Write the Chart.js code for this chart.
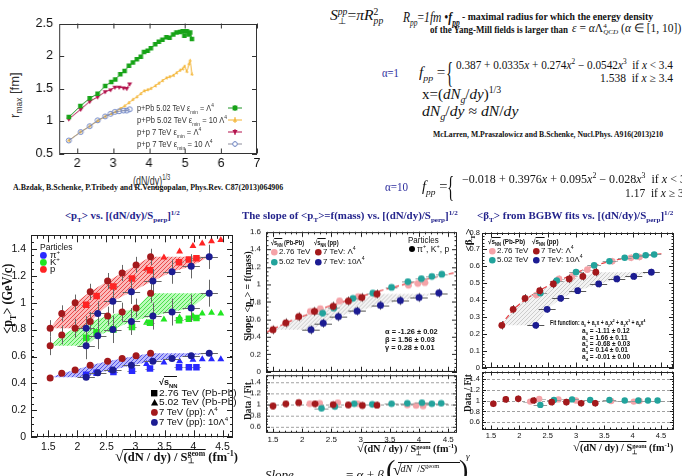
<!DOCTYPE html>
<html>
<head>
<meta charset="utf-8">
<script src="https://cdn.jsdelivr.net/npm/chart.js@4.4.1/dist/chart.umd.min.js"></script>
<style>
  html, body { margin: 0; padding: 0; }
  body { width: 682px; height: 476px; overflow: hidden; background: #fff; position: relative; }
  .tx { position: absolute; white-space: nowrap; line-height: 1.1; color: #111;
        font-family: "Liberation Serif", "Times New Roman", serif; }
  .st { display: inline-block; vertical-align: middle; line-height: 0.9; font-size: 62%; text-align: left; }
  sub, sup { font-size: 65%; line-height: 0; }
  .ov { border-top: 1px solid currentColor; }
  .box { position: absolute; }
</style>
</head>
<body>
<script>
// ---- r_max vs (dN/dy)^(1/3) ----
var rX = [1.77, 2.09, 2.35, 2.57, 2.78, 2.95, 3.06, 3.2, 3.32, 3.44, 3.55, 3.66, 3.77, 3.86, 3.96,
          4.05, 4.17, 4.27, 4.37, 4.48, 4.57, 4.67, 4.76, 4.86, 4.93, 4.98, 5.05, 5.11, 5.14, 5.19];
var rPPbL1 = [1.06, 1.23, 1.35, 1.42, 1.54, 1.60, 1.64, 1.72, 1.77, 1.85, 1.90, 1.95, 1.99, 2.06, 2.08,
              2.12, 2.18, 2.22, 2.25, 2.29, 2.28, 2.33, 2.36, 2.37, 2.38, 2.31, 2.38, 2.33, 2.36, 2.26];
var rPPbL10 = [0.70, 0.83, 0.92, 1.00, 1.07, 1.11, 1.14, 1.19, 1.23, 1.28, 1.33, 1.37, 1.42, 1.46, 1.48,
               1.50, 1.54, 1.58, 1.62, 1.66, 1.68, 1.70, 1.74, 1.78, 1.80, 1.84, 1.76, 1.88, 1.93, 1.72];
var rppX = [1.77, 2.1, 2.35, 2.57, 2.78, 2.93, 3.05, 3.17, 3.29, 3.38, 3.46];
var rppL1 = [1.03, 1.18, 1.30, 1.37, 1.45, 1.48, 1.52, 1.52, 1.51, 1.50, 1.57];
var rppL10 = [0.70, 0.83, 0.92, 1.01, 1.07, 1.11, 1.14, 1.15, 1.16, 1.16, 1.18];
var rTicksX = [2, 3, 4, 5, 6, 7];
var rTicksY = [0.5, 1, 1.5, 2, 2.5];

// ---- <pT> vs sqrt((dN/dy)/S) ----
var ppX1 = [1.53, 1.73, 1.96, 2.22, 2.52, 2.77, 3.01, 3.26];   // 7 TeV pp, Λ^4
var ppX10 = [2.15, 2.35, 2.61, 2.93, 3.30, 3.63, 3.96, 4.27];  // 7 TeV pp, 10Λ^4
var mptPiL1 = [0.44, 0.475, 0.50, 0.535, 0.565, 0.585, 0.605, 0.625];
var mptKL1 = [0.68, 0.76, 0.81, 0.86, 0.90, 0.93, 0.96, 1.07];
var mptPL1 = [0.81, 0.92, 1.00, 1.08, 1.16, 1.22, 1.28, 1.34];
var mptPiL10 = [0.445, 0.48, 0.50, 0.535, 0.565, 0.585, 0.605, 0.625];
var mptKL10 = [0.68, 0.755, 0.80, 0.86, 0.90, 0.93, 0.96, 1.07];
var mptPL10 = [0.81, 0.92, 1.01, 1.08, 1.16, 1.23, 1.27, 1.34];
var pb276X = [2.15, 2.33, 2.62, 2.94, 3.25, 3.75, 3.92, 4.05];
var mptPi276 = [0.465, 0.48, 0.485, 0.495, 0.51, 0.52, 0.52, 0.52];
var mptK276 = [0.74, 0.78, 0.80, 0.82, 0.85, 0.87, 0.88, 0.885];
var mptP276 = [0.985, 1.05, 1.12, 1.18, 1.24, 1.30, 1.32, 1.33];
var pb502X = [2.58, 3.19, 3.49, 3.76, 3.99, 4.15, 4.31, 4.47];
var mptPi502 = [0.50, 0.545, 0.555, 0.565, 0.575, 0.58, 0.58, 0.58];
var mptK502 = [0.80, 0.85, 0.875, 0.89, 0.90, 0.92, 0.925, 0.92];
var mptP502 = [1.12, 1.25, 1.335, 1.38, 1.42, 1.44, 1.455, 1.465];
var mptTicksX = [1.5, 2, 2.5, 3, 3.5, 4, 4.5];
var mptTicksY = [0, 0.2, 0.4, 0.6, 0.8, 1, 1.2, 1.4];

// ---- slope of <pT>(mass) ----
var slX1 = [1.5, 1.72, 1.94, 2.21, 2.53, 2.79, 3.02, 3.28];
var slL1 = [0.48, 0.56, 0.63, 0.69, 0.75, 0.81, 0.85, 0.89];
var slX10 = [2.15, 2.36, 2.62, 2.94, 3.34, 3.68, 4.00, 4.34];
var slL10 = [0.48, 0.555, 0.63, 0.695, 0.76, 0.815, 0.85, 0.90];
var sl276X = [2.14, 2.31, 2.64, 2.96, 3.27, 3.82, 3.98, 4.10];
var sl276 = [0.69, 0.72, 0.81, 0.86, 0.885, 0.99, 1.01, 1.02];
var sl502X = [2.35, 2.54, 2.87, 3.21, 3.53, 3.81, 4.04, 4.22, 4.39];
var sl502 = [0.67, 0.73, 0.84, 0.90, 0.965, 1.03, 1.065, 1.09, 1.115];
var slFitX = [1.38, 1.6, 1.8, 2.0, 2.25, 2.5, 2.75, 3.0, 3.25, 3.5, 3.75, 4.0, 4.3, 4.65];
var slFit = [0.45, 0.52, 0.58, 0.63, 0.70, 0.76, 0.81, 0.86, 0.91, 0.955, 1.0, 1.04, 1.085, 1.14];
var slTicksY = [0, 0.2, 0.4, 0.6, 0.8, 1, 1.2, 1.4, 1.6];
var slRatL1X = [1.5, 1.72, 1.94, 2.22, 2.53, 2.79, 3.03, 3.28];
var slRatL1 = [0.97, 1.01, 1.03, 1.01, 0.995, 0.99, 0.98, 0.985];
var slRat276X = [2.13, 2.30, 2.61, 2.95, 3.80, 3.95, 4.07];
var slRat276 = [1.01, 1.02, 1.03, 1.01, 0.99, 0.98, 0.97];
var slRat502X = [2.33, 2.56, 2.89, 3.20, 3.53, 3.80, 4.05, 4.22, 4.38];
var slRat502 = [0.93, 0.96, 1.01, 1.00, 1.01, 1.02, 1.03, 1.01, 1.02];

// ---- <betaT> from BGBW fits ----
var btX1 = [1.69, 1.89, 2.10, 2.36, 2.60, 2.88, 3.12, 3.35];
var btL1 = [0.25, 0.345, 0.41, 0.455, 0.495, 0.525, 0.54, 0.565];
var btX10 = [2.29, 2.49, 2.73, 3.03, 3.40, 3.72, 4.02, 4.33];
var btL10 = [0.25, 0.345, 0.41, 0.455, 0.495, 0.525, 0.54, 0.565];
var bt276X = [2.30, 2.70, 2.93, 3.20, 3.64, 3.97, 4.12];
var bt276 = [0.43, 0.525, 0.54, 0.58, 0.63, 0.65, 0.655];
var bt502X = [2.37, 2.66, 3.00, 3.32, 3.59, 3.86, 4.06, 4.23, 4.38];
var bt502 = [0.44, 0.515, 0.565, 0.605, 0.63, 0.65, 0.66, 0.665, 0.67];
var btFitX = [1.67, 1.8, 1.9, 2.0, 2.1, 2.25, 2.4, 2.6, 2.8, 3.0, 3.25, 3.5, 3.75, 4.0, 4.25, 4.55];
var btFit = [0.25, 0.305, 0.345, 0.375, 0.40, 0.435, 0.465, 0.50, 0.53, 0.56, 0.595, 0.62, 0.64, 0.655, 0.665, 0.675];
var btTicksY = [0, 0.1, 0.2, 0.3, 0.4, 0.5, 0.6, 0.7, 0.8];
var btRatL1X = [1.54, 1.76, 1.98, 2.25, 2.57, 2.83, 3.09, 3.34];
var btRatL1 = [0.94, 1.02, 1.03, 1.00, 0.97, 0.97, 0.95, 0.95];
var btRat276X = [2.19, 2.35, 2.69, 3.00, 3.62, 4.02, 4.12];
var btRat276 = [0.98, 1.03, 1.02, 1.00, 0.99, 0.98, 0.99];
var btRat502X = [2.37, 2.61, 2.93, 3.25, 3.59, 3.86, 4.10, 4.27, 4.44];
var btRat502 = [0.92, 1.01, 1.02, 1.01, 1.01, 1.00, 1.00, 1.00, 1.00];
var ratTicksY = [0.6, 0.8, 1, 1.2, 1.4];

// colours
var DRED = '#a3191c', NAVY = '#1c1c92', PINK = '#f5a3a8', TEAL = '#22a39c';

function pts(xs, ys) {
  return xs.map(function (x, i) { return { x: x, y: ys[i] }; });
}

// area between the Λ^4 curve (upper edge) and the 10Λ^4 curve (lower edge),
// each curve held flat beyond its own points
function band(x1, y1, x2, y2) {
  var p = pts(x1, y1);
  p.push({ x: x2[x2.length - 1], y: y1[y1.length - 1] });
  for (var i = x2.length - 1; i >= 0; i--) p.push({ x: x2[i], y: y2[i] });
  p.push({ x: x1[0], y: y2[0] });
  return p;
}

function hatch(bg, fg) {
  var c = document.createElement('canvas');
  c.width = 4; c.height = 4;
  var g = c.getContext('2d');
  g.fillStyle = bg; g.fillRect(0, 0, 4, 4);
  g.strokeStyle = fg; g.lineWidth = 1;
  g.beginPath(); g.moveTo(-1, 5); g.lineTo(5, -1); g.stroke();
  return g.createPattern(c, 'repeat');
}

function dots(xs, ys, shape, color, r, extra) {
  var d = { type: 'scatter', data: pts(xs, ys), pointStyle: shape, pointRadius: r,
            backgroundColor: color, borderColor: color, borderWidth: 0, order: 0 };
  for (var k in extra) d[k] = extra[k];
  return d;
}

function curve(xs, ys, color, extra) {
  var d = { type: 'line', data: pts(xs, ys), showLine: true, borderColor: color, borderWidth: 1,
            pointRadius: 0, fill: false, tension: 0, order: 5 };
  for (var k in extra) d[k] = extra[k];
  return d;
}

function area(poly, pattern) {
  return { type: 'line', data: poly, showLine: true, fill: 'shape', backgroundColor: pattern,
           borderWidth: 0, borderColor: 'rgba(0,0,0,0)', pointRadius: 0, tension: 0, order: 10 };
}

// frame with inward ticks on all four sides, optional dashed reference lines
var framePlugin = {
  id: 'frame',
  beforeDatasetsDraw: function (chart) {
    var f = chart.canvas.frameCfg;
    if (!f.hl) return;
    var a = chart.chartArea, ctx = chart.ctx, ys = chart.scales.y;
    ctx.save();
    ctx.strokeStyle = '#a0a0a0'; ctx.lineWidth = 1; ctx.setLineDash([3, 2]);
    ctx.beginPath();
    f.hl.forEach(function (v) {
      var p = Math.round(ys.getPixelForValue(v)) + 0.5;
      ctx.moveTo(a.left, p); ctx.lineTo(a.right, p);
    });
    ctx.stroke();
    ctx.restore();
  },
  afterDraw: function (chart) {
    var f = chart.canvas.frameCfg;
    var a = chart.chartArea, ctx = chart.ctx, xs = chart.scales.x, ys = chart.scales.y;
    ctx.save();
    ctx.strokeStyle = f.color; ctx.lineWidth = 1;
    ctx.strokeRect(Math.round(a.left) + 0.5, Math.round(a.top) + 0.5,
                   Math.round(a.right - a.left) - 1, Math.round(a.bottom - a.top) - 1);
    ctx.beginPath();
    function tx(v, len) {
      var p = Math.round(xs.getPixelForValue(v)) + 0.5;
      ctx.moveTo(p, a.bottom); ctx.lineTo(p, a.bottom - len);
      ctx.moveTo(p, a.top); ctx.lineTo(p, a.top + len);
    }
    function ty(v, len) {
      var p = Math.round(ys.getPixelForValue(v)) + 0.5;
      ctx.moveTo(a.left, p); ctx.lineTo(a.left + len, p);
      ctx.moveTo(a.right, p); ctx.lineTo(a.right - len, p);
    }
    f.xt.forEach(function (v) { tx(v, f.xl); });
    f.yt.forEach(function (v) { ty(v, f.yl); });
    var k;
    if (f.xm) for (k = Math.ceil(xs.min / f.xm - 1e-9); k * f.xm <= xs.max + 1e-9; k++) tx(k * f.xm, f.xl / 2);
    if (f.ym) for (k = Math.ceil(ys.min / f.ym - 1e-9); k * f.ym <= ys.max + 1e-9; k++) ty(k * f.ym, f.yl / 2);
    ctx.stroke();
    ctx.restore();
  }
};

// error bars drawn under each dataset's markers
var errPlugin = {
  id: 'errbars',
  beforeDatasetDraw: function (chart, args) {
    var ds = chart.data.datasets[args.index];
    if (!ds.errY && !ds.errX) return;
    var a = chart.chartArea, ctx = chart.ctx, xs = chart.scales.x, ys = chart.scales.y;
    ctx.save();
    ctx.beginPath(); ctx.rect(a.left, a.top, a.right - a.left, a.bottom - a.top); ctx.clip();
    ctx.strokeStyle = ds.errColor || '#555'; ctx.lineWidth = 1;
    ctx.beginPath();
    ds.data.forEach(function (p) {
      var px = Math.round(xs.getPixelForValue(p.x)) + 0.5, py = Math.round(ys.getPixelForValue(p.y)) + 0.5;
      if (ds.errY) {
        ctx.moveTo(px, ys.getPixelForValue(p.y + ds.errY));
        ctx.lineTo(px, ys.getPixelForValue(p.y - ds.errY));
      }
      if (ds.errX) {
        ctx.moveTo(xs.getPixelForValue(p.x - ds.errX), py);
        ctx.lineTo(xs.getPixelForValue(p.x + ds.errX), py);
      }
    });
    ctx.stroke();
    ctx.restore();
  }
};

function fmt(v) { return String(+(+v).toFixed(3)); }

function plot(o) {
  var box = document.createElement('div');
  box.className = 'box';
  document.body.appendChild(box);
  var cv = document.createElement('canvas');
  box.appendChild(cv);
  var a = o.area;
  cv.width = a[2] - a[0] + 40;
  cv.height = a[3] - a[1] + o.xh + 6;
  cv.frameCfg = o.frame;
  var font = { family: 'Liberation Sans', size: o.fs };
  var chart = new Chart(cv, {
    type: 'scatter',
    data: { datasets: o.datasets },
    options: {
      responsive: false, maintainAspectRatio: false, animation: false, events: [],
      devicePixelRatio: 1,
      layout: { padding: { top: 6, right: 6, left: 0, bottom: 0 } },
      plugins: { legend: { display: false }, tooltip: { enabled: false } },
      scales: {
        x: {
          type: 'linear', min: o.xr[0], max: o.xr[1],
          grid: { display: false, drawTicks: false }, border: { display: false },
          afterBuildTicks: function (s) { s.ticks = o.frame.xt.map(function (v) { return { value: v }; }); },
          afterFit: function (s) { s.height = o.xh; },
          ticks: { display: o.xlab !== false, font: font, color: '#111', padding: o.xp,
                   maxRotation: 0, autoSkip: false, callback: fmt }
        },
        y: {
          type: 'linear', min: o.yr[0], max: o.yr[1],
          grid: { display: false, drawTicks: false }, border: { display: false },
          afterBuildTicks: function (s) { s.ticks = o.frame.yt.map(function (v) { return { value: v }; }); },
          afterFit: function (s) { s.width = 34; },
          ticks: { font: font, color: '#111', padding: o.yp, autoSkip: false, callback: fmt }
        }
      }
    },
    plugins: [framePlugin, errPlugin]
  });
  var ca = chart.chartArea;
  var dw = (a[2] - a[0]) - (ca.right - ca.left), dh = (a[3] - a[1]) - (ca.bottom - ca.top);
  if (Math.abs(dw) > 0.3 || Math.abs(dh) > 0.3) {
    chart.resize(chart.width + dw, chart.height + dh);
    ca = chart.chartArea;
  }
  box.style.left = (a[0] - ca.left) + 'px';
  box.style.top = (a[1] - ca.top) + 'px';
  return chart;
}

// r_max
plot({
  area: [59, 23, 256, 153], xr: [1.5, 7], yr: [0.5, 2.5], fs: 12.5, xh: 18, xp: 3, yp: 6,
  frame: { xt: rTicksX, yt: rTicksY, xl: 5, yl: 5, color: '#333' },
  datasets: [
    curve(rX, rPPbL1, '#1e9426', { pointStyle: 'rect', pointRadius: 3.2, pointBackgroundColor: '#17a317', pointBorderWidth: 0, order: 1 }),
    curve(rppX, rppL1, '#b3134d', { pointStyle: 'triangle', pointRotation: 180, pointRadius: 2.8, pointBackgroundColor: '#b3134d', pointBorderWidth: 0, order: 2 }),
    curve(rppX, rppL10, '#8e8e9c', { pointStyle: 'circle', pointRadius: 2.5, pointBackgroundColor: 'rgba(255,255,255,0)', pointBorderColor: '#6f86c6', pointBorderWidth: 1, order: 3 }),
    curve(rX, rPPbL10, '#f2b232', { pointStyle: 'triangle', pointRadius: 2, pointBackgroundColor: '#f5bb45', pointBorderWidth: 0, errY: 0.025, errColor: '#f4c560', order: 4 })
  ]
});

// <pT>
plot({
  area: [31, 235, 233, 437], xr: [1.2, 4.68], yr: [0, 1.5], fs: 10.5, xh: 16, xp: 4, yp: 5,
  frame: { xt: mptTicksX, yt: mptTicksY, xl: 7, yl: 6, xm: 0.1, ym: 0.05, color: '#222' },
  datasets: [
    dots(ppX1, mptPL1, 'circle', DRED, 3.5, { errY: 0.06, errColor: '#666' }),
    dots(ppX1, mptKL1, 'circle', DRED, 3.5, { errY: 0.07, errColor: '#666' }),
    dots(ppX1, mptPiL1, 'circle', DRED, 3.5, { errY: 0.015, errColor: '#666' }),
    dots(ppX10, mptPL10, 'circle', NAVY, 3.5, { errY: 0.09, errX: 0.15, errColor: '#666' }),
    dots(ppX10, mptKL10, 'circle', NAVY, 3.5, { errY: 0.1, errX: 0.15, errColor: '#666' }),
    dots(ppX10, mptPiL10, 'circle', NAVY, 3.5, { errY: 0.02, errX: 0.15, errColor: '#666' }),
    dots(pb276X, mptP276, 'rect', '#ff2424', 4.6, { errX: 0.08, errColor: '#999', order: 1 }),
    dots(pb276X, mptK276, 'rect', '#22e622', 4.6, { errX: 0.08, errColor: '#999', order: 1 }),
    dots(pb276X, mptPi276, 'rect', '#2828ff', 4.6, { errX: 0.08, errColor: '#999', order: 1 }),
    dots(pb502X, mptP502, 'triangle', '#ff2424', 4, { order: 1 }),
    dots(pb502X, mptK502, 'triangle', '#22e622', 4, { order: 1 }),
    dots(pb502X, mptPi502, 'triangle', '#2828ff', 4, { order: 1 }),
    area(band(ppX1, mptPL1, ppX10, mptPL10), hatch('rgba(250,130,130,0.55)', 'rgba(225,40,40,0.75)')),
    area(band(ppX1, mptKL1, ppX10, mptKL10), hatch('rgba(130,250,130,0.55)', 'rgba(40,215,40,0.75)')),
    area(band(ppX1, mptPiL1, ppX10, mptPiL10), hatch('rgba(130,130,250,0.55)', 'rgba(50,50,225,0.75)'))
  ]
});

// slope, upper panel
plot({
  area: [266, 232, 457, 371], xr: [1.38, 4.65], yr: [0, 1.6], fs: 8, xh: 2, xp: 2, yp: 5, xlab: false,
  frame: { xt: mptTicksX, yt: slTicksY, xl: 5, yl: 5, xm: 0.1, ym: 0.05, color: '#222' },
  datasets: [
    dots(slX10, slL10, 'circle', NAVY, 3.5, { errY: 0.05, errX: 0.15, errColor: '#555' }),
    dots(slX1, slL1, 'circle', DRED, 3.5, { errY: 0.05, errColor: '#555' }),
    dots(sl502X, sl502, 'circle', TEAL, 3.4, { errY: 0.02, errX: 0.1, errColor: '#999', order: 1 }),
    dots(sl276X, sl276, 'circle', PINK, 3.4, { errY: 0.03, errX: 0.06, errColor: '#bbb', order: 2 }),
    curve(slFitX, slFit, '#e63c40', { borderDash: [5, 3], borderWidth: 1.2, tension: 0.3 }),
    area(band(slX1, slL1, slX10, slL10), hatch('rgba(235,235,235,0.6)', 'rgba(180,180,180,0.6)'))
  ]
});
// slope, data/fit
plot({
  area: [266, 375, 457, 432], xr: [1.38, 4.65], yr: [0.49, 1.53], fs: 8, xh: 12, xp: 2, yp: 5,
  frame: { xt: mptTicksX, yt: ratTicksY, xl: 4, yl: 4, xm: 0.1, ym: 0.05, color: '#222',
           hl: [0.6, 0.8, 1, 1.2, 1.4] },
  datasets: [
    dots(slRatL1X, slRatL1, 'circle', DRED, 3.4, { errY: 0.06, errColor: '#555' }),
    dots(slRat502X, slRat502, 'circle', TEAL, 3.3, { errY: 0.02, errX: 0.12, errColor: '#999', order: 1 }),
    dots(slRat276X, slRat276, 'circle', PINK, 3.3, { errY: 0.03, errColor: '#bbb', order: 2 })
  ]
});

// <betaT>, upper panel
plot({
  area: [482, 232, 674, 367], xr: [1.34, 4.73], yr: [0, 0.8], fs: 7.5, xh: 2, xp: 2, yp: 2, xlab: false,
  frame: { xt: mptTicksX, yt: btTicksY, xl: 5, yl: 5, xm: 0.1, ym: 0.02, color: '#222' },
  datasets: [
    dots(btX10, btL10, 'circle', NAVY, 3.4, { errY: 0.02, errX: 0.15, errColor: '#555' }),
    dots(btX1, btL1, 'circle', DRED, 3.4, { errY: 0.025, errColor: '#555' }),
    dots(bt502X, bt502, 'circle', TEAL, 3.3, { errY: 0.01, errX: 0.12, errColor: '#999', order: 1 }),
    dots(bt276X, bt276, 'circle', PINK, 3.3, { errY: 0.02, errX: 0.1, errColor: '#bbb', order: 2 }),
    curve(btFitX, btFit, '#e63c40', { borderDash: [5, 3], borderWidth: 1.2, tension: 0.3 }),
    area(band(btX1, btL1, btX10, btL10), hatch('rgba(235,235,235,0.6)', 'rgba(180,180,180,0.6)'))
  ]
});
// <betaT>, data/fit
plot({
  area: [482, 371, 674, 429], xr: [1.34, 4.73], yr: [0.47, 1.53], fs: 7.5, xh: 12, xp: 2, yp: 2,
  frame: { xt: mptTicksX, yt: ratTicksY, xl: 4, yl: 4, xm: 0.1, ym: 0.05, color: '#222',
           hl: [0.6, 0.8, 1, 1.2, 1.4] },
  datasets: [
    dots(btRatL1X, btRatL1, 'circle', DRED, 3.3, { errY: 0.06, errColor: '#555' }),
    dots(btRat502X, btRat502, 'circle', TEAL, 3.2, { errY: 0.02, errX: 0.12, errColor: '#999', order: 1 }),
    dots(btRat276X, btRat276, 'circle', PINK, 3.2, { errY: 0.03, errX: 0.12, errColor: '#bbb', order: 2 })
  ]
});

// ---- text ----
function put(html, x, y, css, w, align) {
  var d = document.createElement('div');
  d.className = 'tx';
  d.style.cssText = css || '';
  d.innerHTML = html;
  document.body.appendChild(d);
  var ow = d.offsetWidth, oh = d.offsetHeight, s = w ? w / ow : 1;
  var left = x;
  if (align === 'r') left = x - ow * s;
  if (align === 'c') left = x - ow * s / 2;
  d.style.left = left + 'px';
  d.style.top = (y - oh / 2) + 'px';
  if (s !== 1) { d.style.transformOrigin = '0 50%'; d.style.transform = 'scaleX(' + s + ')'; }
  return d;
}
function putV(html, x, y, css, len) {
  var d = document.createElement('div');
  d.className = 'tx';
  d.style.cssText = css || '';
  d.innerHTML = html;
  document.body.appendChild(d);
  var ow = d.offsetWidth, oh = d.offsetHeight, s = len ? len / ow : 1;
  d.style.left = (x - ow / 2) + 'px';
  d.style.top = (y - oh / 2) + 'px';
  d.style.transform = 'rotate(-90deg) scaleX(' + s + ')';
  return d;
}
function mark(shape, fill, r, stroke) {
  var n = 2 * r + 2, c = n / 2, s;
  var st = stroke ? ' stroke="' + stroke + '" stroke-width="1"' : '';
  if (shape === 'c') s = '<circle cx="' + c + '" cy="' + c + '" r="' + r + '" fill="' + fill + '"' + st + '/>';
  else if (shape === 's') s = '<rect x="' + (c - r) + '" y="' + (c - r) + '" width="' + 2 * r + '" height="' + 2 * r + '" fill="' + fill + '"/>';
  else if (shape === 't') s = '<polygon points="' + c + ',' + (c - r) + ' ' + (c + r) + ',' + (c + r * 0.8) + ' ' + (c - r) + ',' + (c + r * 0.8) + '" fill="' + fill + '"/>';
  else s = '<polygon points="' + c + ',' + (c + r) + ' ' + (c + r) + ',' + (c - r * 0.8) + ' ' + (c - r) + ',' + (c - r * 0.8) + '" fill="' + fill + '"/>';
  return '<svg width="' + n + '" height="' + n + '" style="display:block">' + s + '</svg>';
}
function keyMark(shape, fill, r, line, stroke) {
  return '<svg width="14" height="10" style="display:block"><line x1="0" y1="5" x2="14" y2="5" stroke="' + line + '"/>' +
    '<line x1="7" y1="2" x2="7" y2="8" stroke="' + line + '"/>' +
    mark(shape, fill, r, stroke).replace('<svg', '<svg x="' + (7 - r - 1) + '" y="' + (5 - r - 1) + '"') + '</svg>';
}

var SF = 'font-family:"Liberation Sans",Arial,sans-serif;';
var sNN = '√<span class="ov">s<sub>NN</sub></span>';
var xTitle = '<span style="font-size:125%">√</span><span class="ov">(dN / dy) / S<span class="st">geom<br>⊥</span></span> (fm<sup>-1</sup>)';

// r_max panel
putV('r<sub>max</sub> [fm]', 15, 95, SF + 'font-size:13px;color:#333');
put('(dN/dy)<sup>1/3</sup>', 133, 181, SF + 'font-size:13px;color:#333', 37);
put('p+Pb 5.02 TeV ε<sub>min</sub> = Λ<sup>4</sup>', 137, 108, SF + 'font-size:9.5px;color:#333', 77);
put('p+Pb 5.02 TeV ε<sub>min</sub> = 10 Λ<sup>4</sup>', 137, 120, SF + 'font-size:9.5px;color:#333', 90);
put('p+p 7 TeV ε<sub>min</sub> = Λ<sup>4</sup>', 137, 132, SF + 'font-size:9.5px;color:#333', 64);
put('p+p 7 TeV ε<sub>min</sub> = 10 Λ<sup>4</sup>', 137, 144, SF + 'font-size:9.5px;color:#333', 76);
put(keyMark('s', '#17a317', 2.4, '#1e9426'), 235, 108, '', null, 'c');
put(keyMark('t', '#f5bb45', 2.2, '#f2b232'), 235, 120, '', null, 'c');
put(keyMark('v', '#b3134d', 2.6, '#b3134d'), 235, 132, '', null, 'c');
put(keyMark('c', '#fff', 2.3, '#8e8e9c', '#6f86c6'), 235, 144, '', null, 'c');
put('A.Bzdak, B.Schenke, P.Tribedy and R.Venugopalan, Phys.Rev. C87(2013)064906', 13, 188, 'font-size:8px;font-weight:bold', 270);

// model description
put('<i>S</i><span class="st"><i>pp</i><br>⊥</span>=<i>πR</i><span class="st">2<br><i>pp</i></span>', 330, 16, 'font-size:15px', 53);
put('<i>R<sub>pp</sub></i>=<i>1fm</i> •<i><b>f<sub>pp</sub></b></i>', 403, 17, 'font-size:15px', 57);
put('- maximal radius for which the energy density', 462, 16, 'font-size:10px;font-weight:bold', 191);
put('of the Yang-Mill fields is larger than', 430, 29, 'font-size:10px;font-weight:bold', 138);
put('<i>ε</i> = <i>α</i>Λ<span class="st">4<br><i>QCD</i></span> (<i>α</i> ∈ [1, 10])', 572, 29, 'font-size:11.5px');
put('α=1', 382, 73, 'font-size:13px;color:#2a2a9c', 17);
put('<i>f<sub>pp</sub></i> =', 419, 72, 'font-size:14px', 26);
put('{', 446, 71, 'font-size:30px', 7);
put('0.387 + 0.0335<i>x</i> + 0.274<i>x</i><sup>2</sup> − 0.0542<i>x</i><sup>3</sup>&nbsp; if <i>x</i> &lt; 3.4', 456, 65, 'font-size:11.5px', 217);
put('1.538&nbsp; if <i>x</i> ≥ 3.4', 673, 78, 'font-size:11.5px', null, 'r');
put('x=(<i>dN<sub>g</sub></i>/<i>dy</i>)<sup>1/3</sup>', 422, 94, 'font-size:15px');
put('<i>dN<sub>g</sub></i>/<i>dy</i> ≈ <i>dN</i>/<i>dy</i>', 422, 111, 'font-size:15px', 96);
put('McLarren, M.Praszalowicz and B.Schenke, Nucl.Phys. A916(2013)210', 433, 135, 'font-size:8px;font-weight:bold', 230);
put('α=10', 385, 187, 'font-size:13px;color:#2a2a9c', 23);
put('<i>f<sub>pp</sub></i> =', 422, 186, 'font-size:14px', 25);
put('{', 447, 185, 'font-size:30px', 7);
put('−0.018 + 0.3976<i>x</i> + 0.095<i>x</i><sup>2</sup> − 0.028<i>x</i><sup>3</sup>&nbsp; if <i>x</i> &lt; 3', 462, 179, 'font-size:11.5px', 224);
put('1.17&nbsp; if <i>x</i> ≥ 3', 684, 193, 'font-size:11.5px', null, 'r');

// panel titles
var TT = 'font-size:10px;font-weight:bold;color:#24248c';
put('&lt;p<sub>T</sub>&gt; vs. [(dN/dy)/S<sub>perp</sub>]<sup>1/2</sup>', 65, 215, TT, 115);
put('The slope of &lt;p<sub>T</sub>&gt;=f(mass) vs. [(dN/dy)/S<sub>perp</sub>]<sup>1/2</sup>', 242, 215, TT, 216);
put('&lt;β<sub>T</sub>&gt; from BGBW fits vs. [(dN/dy)/S<sub>perp</sub>]<sup>1/2</sup>', 477, 215, TT, 196);

// <pT> panel labels
putV('&lt;p<sub>T</sub>&gt; (GeV/c)', 8, 298, 'font-size:14px;font-weight:bold', 70);
put(xTitle, 115, 456, 'font-size:12px;font-weight:bold', 123);
put('Particles', 40, 248, SF + 'font-size:9px', 33);
put(mark('c', '#2a2aff', 3.4), 43, 255, '', null, 'c');
put('π<sup>+</sup>', 50, 255, SF + 'font-size:9.5px');
put(mark('c', '#22e622', 3.4), 43, 262, '', null, 'c');
put('K<sup>+</sup>', 50, 262, SF + 'font-size:9.5px');
put(mark('c', '#ff2424', 3.4), 43, 269, '', null, 'c');
put('p', 50, 269, SF + 'font-size:9.5px');
put(sNN, 159, 383, SF + 'font-size:9px;font-weight:bold');
put(mark('s', '#000', 3.2), 154, 393, '', null, 'c');
put('2.76 TeV (Pb-Pb)', 159, 393, SF + 'font-size:9.5px', 78);
put(mark('t', '#000', 3.6), 154, 402, '', null, 'c');
put('5.02 TeV (Pb-Pb)', 159, 402, SF + 'font-size:9.5px', 78);
put(mark('c', DRED, 3.4), 154, 412, '', null, 'c');
put('7 TeV (pp): Λ<sup>4</sup>', 159, 412, SF + 'font-size:9.5px');
put(mark('c', NAVY, 3.4), 154, 422, '', null, 'c');
put('7 TeV (pp): 10Λ<sup>4</sup>', 159, 422, SF + 'font-size:9.5px');

// slope panel labels
putV('Slope: &lt;p<sub>T</sub>&gt; = f(mass)', 247, 296, 'font-size:11px;font-weight:bold', 90);
putV('Data / Fit', 247, 401, 'font-size:11px;font-weight:bold', 38);
put(xTitle, 357, 449, 'font-size:10px;font-weight:bold', 100);
put(sNN + ' (Pb-Pb)', 271, 243, SF + 'font-size:7px;font-weight:bold', 33);
put(sNN + ' (pp)', 314, 243, SF + 'font-size:7px;font-weight:bold', 25);
put(mark('c', PINK, 3.3), 274, 252, '', null, 'c');
put('2.76 TeV', 279, 252, SF + 'font-size:8px');
put(mark('c', TEAL, 3.3), 274, 262, '', null, 'c');
put('5.02 TeV', 279, 262, SF + 'font-size:8px');
put(mark('c', DRED, 3.3), 318, 252, '', null, 'c');
put('7 TeV: Λ<sup>4</sup>', 323, 252, SF + 'font-size:8px');
put(mark('c', NAVY, 3.3), 318, 262, '', null, 'c');
put('7 TeV: 10Λ<sup>4</sup>', 323, 262, SF + 'font-size:8px');
put('Particles', 408, 240, SF + 'font-size:8.5px', 31);
put(mark('c', '#000', 3), 412, 249, '', null, 'c');
put('π<sup>+</sup>, K<sup>+</sup>, p', 417, 249, SF + 'font-size:8.5px');
put('α = -1.26 ± 0.02', 385, 332, SF + 'font-size:8px;font-weight:bold', 53);
put('β = 1.56 ± 0.03', 385, 340, SF + 'font-size:8px;font-weight:bold', 50);
put('γ = 0.28 ± 0.01', 385, 348, SF + 'font-size:8px;font-weight:bold', 50);

// betaT panel labels
putV('&lt;β<sub>T</sub>&gt;', 467, 240, 'font-size:11px;font-weight:bold', 23);
putV('Data / Fit', 467, 393, 'font-size:11px;font-weight:bold', 38);
put(xTitle, 573, 448, 'font-size:10px;font-weight:bold', 100);
put(sNN + ' (Pb-Pb)', 488, 242, SF + 'font-size:7px;font-weight:bold', 37);
put(sNN + ' (pp)', 532, 242, SF + 'font-size:7px;font-weight:bold', 27);
put(mark('c', PINK, 3.3), 492, 251, '', null, 'c');
put('2.76 TeV', 497, 251, SF + 'font-size:8px');
put(mark('c', TEAL, 3.3), 492, 260, '', null, 'c');
put('5.02 TeV', 497, 260, SF + 'font-size:8px');
put(mark('c', DRED, 3.3), 536, 251, '', null, 'c');
put('7 TeV: Λ<sup>4</sup>', 541, 251, SF + 'font-size:8px');
put(mark('c', NAVY, 3.3), 536, 260, '', null, 'c');
put('7 TeV: 10Λ<sup>4</sup>', 541, 260, SF + 'font-size:8px');
var FF = SF + 'font-size:6.5px;font-weight:bold';
put('Fit function: a<sub>0</sub> + a<sub>1</sub>x + a<sub>2</sub>x<sup>2</sup> + a<sub>3</sub>x<sup>3</sup> + a<sub>4</sub>x<sup>4</sup>', 550, 322, FF, 95);
put('a<sub>0</sub> = -1.11 ± 0.12', 582, 330, FF);
put('a<sub>1</sub> = 1.66 ± 0.11', 582, 337, FF);
put('a<sub>2</sub> = -0.68 ± 0.03', 582, 343, FF);
put('a<sub>3</sub> = 0.14 ± 0.01', 582, 349, FF);
put('a<sub>4</sub> = -0.01 ± 0.00', 582, 356, FF);

// slope parametrisation at the foot of the page
put('<i>Slope</i>', 265, 475, 'font-size:13px');
put('= <i>α</i> + <i>β</i>', 384, 475, 'font-size:13px', null, 'r');
put('(', 386, 470, 'font-size:28px');
put('√', 393, 470, 'font-size:16px');
put('<span class="ov" style="display:inline-block;width:62px">&nbsp;<i>dN</i> &nbsp;/<i>S</i><sup>geom</sup></span>', 398, 468, 'font-size:10px');
put(')', 459, 470, 'font-size:28px');
put('<i>γ</i>', 466, 457, 'font-size:9px');
</script>
</body>
</html>
